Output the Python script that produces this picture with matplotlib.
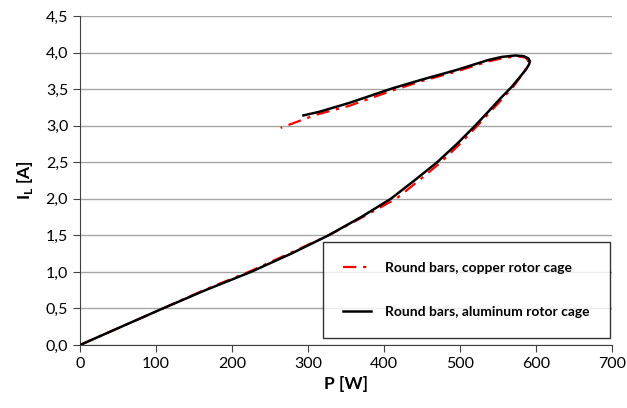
import matplotlib
matplotlib.use("Agg")
import matplotlib.pyplot as plt
from matplotlib.ticker import FuncFormatter

plt.rcParams["font.family"] = ["Lato", "DejaVu Sans"]
plt.rcParams["mathtext.fontset"] = "custom"
plt.rcParams["mathtext.rm"] = "Lato"
plt.rcParams["mathtext.bf"] = "Lato:bold"

# power P [W] vs line current I_L [A]
P_al = [0, 50, 109, 165, 225, 278, 327, 370, 409, 440, 470, 496, 520, 538, 553,
        568, 580, 587, 591, 592, 590, 584, 573, 555, 538, 495, 450, 411, 354, 315, 294]
I_al = [0, 0.23, 0.5, 0.75, 1.0, 1.25, 1.5, 1.75, 2.0, 2.25, 2.5, 2.75, 3.0, 3.2, 3.37,
        3.53, 3.68, 3.77, 3.84, 3.88, 3.92, 3.95, 3.96, 3.94, 3.90, 3.76, 3.63, 3.51, 3.31, 3.19, 3.14]

P_cu = [0, 50, 109, 165, 222, 275, 327, 372, 416, 446, 475, 500, 523, 541, 556,
        570, 582, 588, 590, 587, 575, 555, 538, 495, 450, 411, 354, 311, 264]
I_cu = [0, 0.23, 0.5, 0.76, 1.0, 1.25, 1.5, 1.75, 2.0, 2.25, 2.5, 2.75, 3.0, 3.2, 3.37,
        3.53, 3.70, 3.80, 3.88, 3.93, 3.95, 3.92, 3.88, 3.74, 3.61, 3.48, 3.27, 3.15, 2.97]

labels = ["Round bars, copper rotor cage", "Round bars, aluminum rotor cage"]

fig = plt.figure(figsize=(6.27, 4.08), dpi=100)
ax = fig.add_axes([0.1276, 0.1544, 0.976 - 0.1276, 0.9608 - 0.1544])

ax.plot(P_cu, I_cu, color="red", lw=1.6, linestyle=(0, (6, 3, 1.5, 3)), label=labels[0], zorder=3)
ax.plot(P_al, I_al, color="black", lw=1.8, label=labels[1], zorder=4)

ax.set_xlim(0, 700)
ax.set_ylim(0, 4.5)
ax.set_xticks(range(0, 701, 100))
ax.set_yticks([i * 0.5 for i in range(10)])
ax.yaxis.set_major_formatter(FuncFormatter(lambda v, p: f"{v:.1f}".replace(".", ",")))
ax.grid(axis="y", color="#a6a6a6", lw=1)
ax.set_axisbelow(True)
for s in ["top", "right"]:
    ax.spines[s].set_visible(False)
for s in ["left", "bottom"]:
    ax.spines[s].set_color("#404040")
ax.tick_params(labelsize=11.5, length=5, color="#404040", direction="out")

ax.set_xlabel("P [W]", fontsize=12.5, fontweight="bold", labelpad=4)
ax.set_ylabel(r"I$_\mathbf{L}$ [A]", fontsize=12.5, fontweight="bold", labelpad=8)

leg = ax.legend(loc="lower right", bbox_to_anchor=(0.996, 0.021), borderaxespad=0,
                frameon=True, fancybox=False, edgecolor="black",
                prop={"weight": "bold", "size": 10}, labelspacing=2.3,
                borderpad=1.45, handlelength=2.0, handletextpad=1.0)
leg.get_frame().set_linewidth(1.0)

fig.savefig("out.png", dpi=100)
